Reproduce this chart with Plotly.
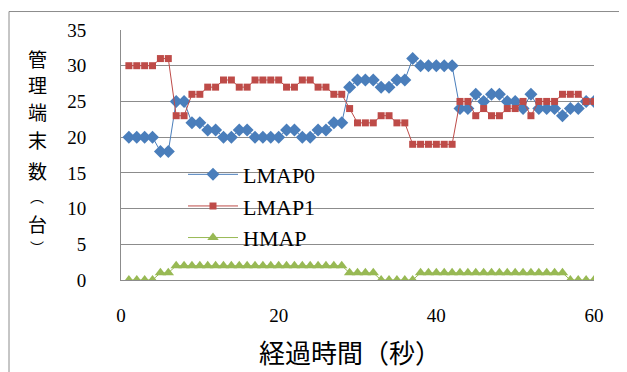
import plotly.graph_objects as go

x = list(range(1, 61))

lmap0 = [20, 20, 20, 20, 18, 18, 25, 25, 22, 22,
         21, 21, 20, 20, 21, 21, 20, 20, 20, 20,
         21, 21, 20, 20, 21, 21, 22, 22, 27, 28,
         28, 28, 27, 27, 28, 28, 31, 30, 30, 30,
         30, 30, 24, 24, 26, 25, 26, 26, 25, 25,
         24, 26, 24, 24, 24, 23, 24, 24, 25, 25]

lmap1 = [30, 30, 30, 30, 31, 31, 23, 23, 26, 26,
         27, 27, 28, 28, 27, 27, 28, 28, 28, 28,
         27, 27, 28, 28, 27, 27, 26, 26, 24, 22,
         22, 22, 23, 23, 22, 22, 19, 19, 19, 19,
         19, 19, 25, 25, 23, 24, 23, 23, 24, 24,
         25, 23, 25, 25, 25, 26, 26, 26, 25, 25]

hmap = [0, 0, 0, 0, 1, 1, 2, 2, 2, 2,
        2, 2, 2, 2, 2, 2, 2, 2, 2, 2,
        2, 2, 2, 2, 2, 2, 2, 2, 1, 1,
        1, 1, 0, 0, 0, 0, 0, 1, 1, 1,
        1, 1, 1, 1, 1, 1, 1, 1, 1, 1,
        1, 1, 1, 1, 1, 1, 0, 0, 0, 0]

series_names = ["LMAP0", "LMAP1", "HMAP"]
x_ticks = [0, 20, 40, 60]
y_ticks = [0, 5, 10, 15, 20, 25, 30, 35]
x_title = "経過時間（秒）"
y_title_chars = ["管", "理", "端", "末", "数", "︵", "台", "︶"]

CJK = "Noto Sans CJK JP"
SERIF = "Liberation Serif, serif"

OFF = 8  # page body margin in the browser
W, H = 627 - OFF, 372 - OFF
L, T = 121 - OFF, 23 - OFF
PW, PH = 473, 257
R, B = W - L - PW, H - T - PH

def px_x(p):  # p: reference window pixel
    return (p - OFF - L) / PW

def px_y(p):
    return 1 - (p - OFF - T) / PH

fig = go.Figure()
fig.add_trace(go.Scatter(x=x, y=lmap0, name=series_names[0], mode="lines+markers",
                         line=dict(color="#4A7EBB", width=1),
                         marker=dict(symbol="diamond", size=10, color="#4A7EBB")))
fig.add_trace(go.Scatter(x=x, y=lmap1, name=series_names[1], mode="lines+markers",
                         line=dict(color="#BE4B48", width=1),
                         marker=dict(symbol="square", size=7, color="#BE4B48")))
fig.add_trace(go.Scatter(x=x, y=hmap, name=series_names[2], mode="lines+markers",
                         line=dict(color="#98B954", width=1),
                         marker=dict(symbol="triangle-up", size=10, color="#98B954")))

annotations = []
y_char_centers = [52, 79, 107, 136, 167, 194, 222, 246]
y_char_sizes = [19, 19, 19, 19, 19, 14, 19, 14]
for ch, cy, sz in zip(y_title_chars, y_char_centers, y_char_sizes):
    annotations.append(dict(text=ch, xref="paper", yref="paper", x=px_x(37), y=px_y(cy),
                            showarrow=False, xanchor="center", yanchor="middle",
                            font=dict(family=CJK, size=sz, color="#000")))
annotations.append(dict(text=x_title, xref="paper", yref="paper",
                        x=px_x(350), y=px_y(353), showarrow=False,
                        xanchor="center", yanchor="middle",
                        font=dict(family=CJK, size=26, color="#000")))

fig.update_layout(
    width=W, height=H,
    margin=dict(l=L, r=R, t=T, b=B),
    paper_bgcolor="white", plot_bgcolor="white",
    showlegend=True,
    legend=dict(x=px_x(183), y=px_y(150), xanchor="left", yanchor="top",
                bgcolor="rgba(0,0,0,0)", tracegroupgap=0, itemwidth=50,
                font=dict(family=SERIF, size=22, color="#000")),
    xaxis=dict(range=[0, 60], tickvals=x_ticks, showgrid=False, zeroline=False,
               showline=True, linecolor="#8c8c8c", linewidth=1, ticks="",
               ticklabelstandoff=18,
               tickfont=dict(family=SERIF, size=19, color="#000")),
    yaxis=dict(range=[0, 35], tickvals=y_ticks, showgrid=True, gridcolor="#8c8c8c",
               gridwidth=1, zeroline=False, showline=True, linecolor="#8c8c8c",
               linewidth=1, ticks="", ticklabelstandoff=30,
               tickfont=dict(family=SERIF, size=19, color="#000")),
    annotations=annotations,
    shapes=[dict(type="rect", xref="paper", yref="paper",
                 x0=px_x(9), x1=px_x(624), y0=px_y(380), y1=px_y(4),
                 line=dict(color="#8c8c8c", width=1), layer="below")],
)

fig.write_html("out.html")
